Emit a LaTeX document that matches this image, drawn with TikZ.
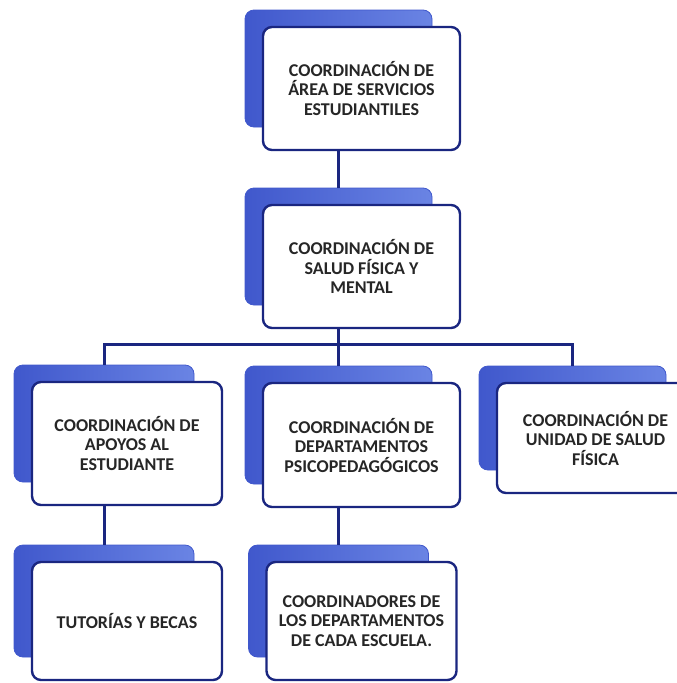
\documentclass[tikz,border=0pt]{standalone}
\usepackage{fontspec}
\setmainfont{Carlito}
\usetikzlibrary{positioning}
\definecolor{navy}{HTML}{1A2680}
\definecolor{backdark}{HTML}{4058CC}
\definecolor{backlight}{HTML}{6A84E4}
\tikzset{back/.style={rectangle,rounded corners=9pt,left color=backdark,right color=backlight,draw=backdark,line width=0.8pt,inner sep=0pt}}
\tikzset{card/.style={rectangle,rounded corners=9pt,draw=navy,line width=2.4pt,fill=white,inner sep=0pt,align=center,text=black!85,font=\bfseries\fontsize{18}{19.5}\selectfont}}
\tikzset{link/.style={draw=navy,line width=3pt}}

\begin{document}
\begin{tikzpicture}[x=1pt,y=-1pt]
\useasboundingbox (0,0) rectangle (677,683);
% \draw[help lines] (0,0) grid (677,683);
\node (areab) [back,minimum width=187pt,minimum height=117pt] at (338.5,68.5) {};
\node (area) [card,minimum width=197pt,minimum height=123pt] at (361.5,88.5) {COORDINACIÓN DE\\ÁREA DE SERVICIOS\\ESTUDIANTILES};
\node (saludb) [back,minimum width=187pt,minimum height=117pt] at (338.5,246.5) {};
\node (salud) [card,minimum width=197pt,minimum height=123pt] at (361.5,266.5) {COORDINACIÓN DE\\SALUD FÍSICA Y\\MENTAL};
%
\node (apoyosb) [back,minimum width=180pt,minimum height=117pt] at (104,423.5) {};
\node (apoyos) [card,minimum width=190pt,minimum height=123pt] at (127,443.5) {COORDINACIÓN DE\\APOYOS AL\\ESTUDIANTE};
\node (deptosb) [back,minimum width=187pt,minimum height=118pt] at (338.5,425) {};
\node (deptos) [card,minimum width=197pt,minimum height=124pt] at (361.5,445) {COORDINACIÓN DE\\DEPARTAMENTOS\\PSICOPEDAGÓGICOS};
\node (unidadb) [back,minimum width=187pt,minimum height=104pt] at (572.5,418) {};
\node (unidad) [card,minimum width=197pt,minimum height=110pt] at (595.5,438) {COORDINACIÓN DE\\UNIDAD DE SALUD\\FÍSICA};
%
\node (tutoriasb) [back,minimum width=180pt,minimum height=112pt] at (104,601) {};
\node (tutorias) [card,minimum width=190pt,minimum height=118pt] at (127,621) {TUTORÍAS Y BECAS};
\node (escuelab) [back,minimum width=180pt,minimum height=112pt] at (338.5,601) {};
\node (escuela) [card,minimum width=190pt,minimum height=118pt] at (361.5,621) {COORDINADORES DE\\LOS DEPARTAMENTOS\\DE CADA ESCUELA.};
%
\coordinate (bus) at (338.5,344);
\path[link] (areab.center |- area.south) -- (saludb.north);
\path[link] (saludb.center |- salud.south) -- (bus);
\path[link] (apoyosb.north) |- (bus) -| (unidadb.north);
\path[link] (bus) -- (deptosb.north);
\path[link] (apoyosb.center |- apoyos.south) -- (tutoriasb.north);
\path[link] (deptosb.center |- deptos.south) -- (escuelab.north);
\end{tikzpicture}
\end{document}
